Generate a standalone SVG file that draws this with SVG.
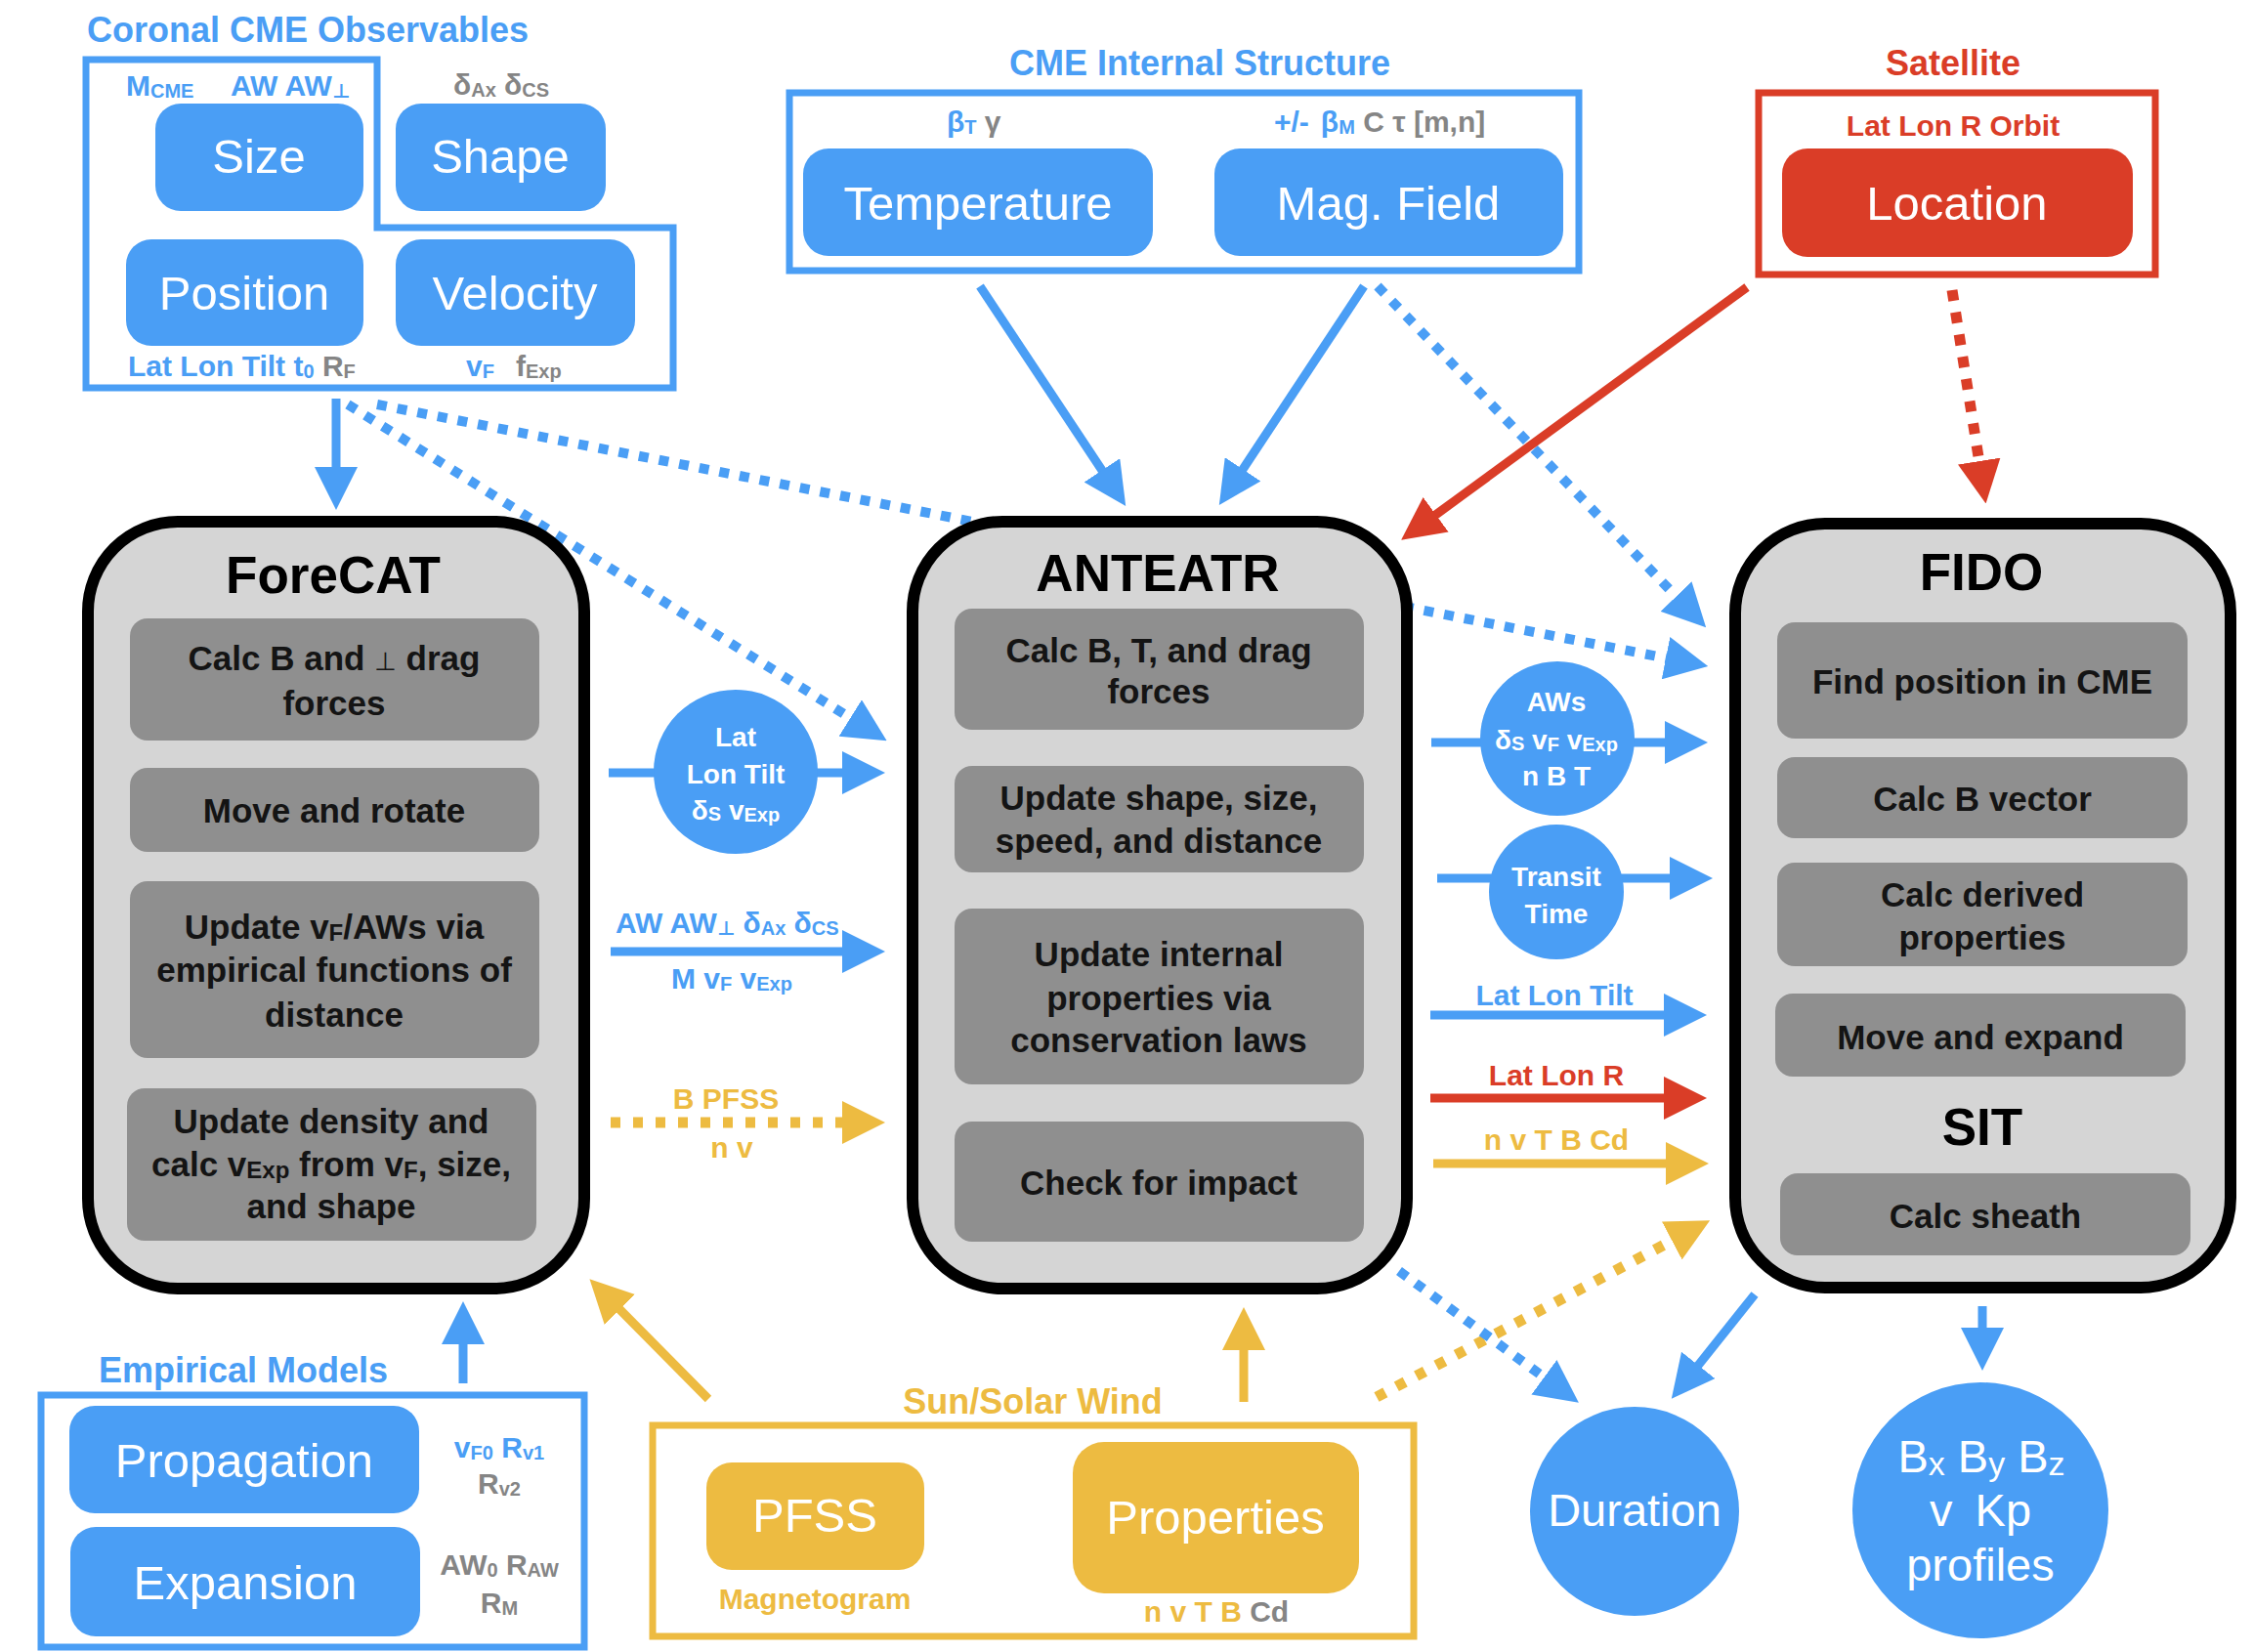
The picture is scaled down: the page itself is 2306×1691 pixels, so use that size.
<svg xmlns="http://www.w3.org/2000/svg" width="2306" height="1691" viewBox="0 0 2306 1691">
<style>
text{font-family:"Liberation Sans","DejaVu Sans",Arial,sans-serif}
.ttl{font-size:36px;font-weight:bold}
.lab{font-size:30px;font-weight:bold}
.s{font-size:20px}
.s2{font-size:24px}
.s3{font-size:34px}
.perp{font-size:26px;font-weight:normal}
.big{font-size:49px;fill:#fff;text-anchor:middle}
.el{font-size:47px}
.hd{font-size:53px;font-weight:bold;fill:#000;text-anchor:middle}
.st{font-size:35px;font-weight:bold;fill:#141414;text-anchor:middle}
.cir{font-size:28px;font-weight:bold;fill:#fff;text-anchor:middle}
.mid{text-anchor:middle}
.cb{fill:#4a9ef5}.cr{fill:#da3d27}.cy{fill:#edbb41}.cg{fill:#858585}
.fb{fill:#4a9ef5}.fr{fill:#da3d27}.fy{fill:#edbb41}
.frB{fill:none;stroke:#4a9ef5;stroke-width:7}
.frR{fill:none;stroke:#da3d27;stroke-width:7}
.frY{fill:none;stroke:#edbb41;stroke-width:7}
.mod{fill:#d5d5d5;stroke:#000;stroke-width:12}
.step{fill:#8f8f8f}
.lB{stroke:#4a9ef5;stroke-width:9;fill:none}
.dB{stroke:#4a9ef5;stroke-width:10;stroke-dasharray:10 11;fill:none}
.lR{stroke:#da3d27;stroke-width:9;fill:none}
.dR{stroke:#da3d27;stroke-width:11;stroke-dasharray:11 12;fill:none}
.lY{stroke:#edbb41;stroke-width:9;fill:none}
.dY{stroke:#edbb41;stroke-width:11;stroke-dasharray:10 13;fill:none}
</style>
<defs>
<marker id="aB" viewBox="0 0 44 44" markerWidth="44" markerHeight="44" refX="2" refY="22" orient="auto" markerUnits="userSpaceOnUse"><path d="M0,0L44,22L0,44Z" fill="#4a9ef5"/></marker>
<marker id="aR" viewBox="0 0 44 44" markerWidth="44" markerHeight="44" refX="2" refY="22" orient="auto" markerUnits="userSpaceOnUse"><path d="M0,0L44,22L0,44Z" fill="#da3d27"/></marker>
<marker id="aY" viewBox="0 0 44 44" markerWidth="44" markerHeight="44" refX="2" refY="22" orient="auto" markerUnits="userSpaceOnUse"><path d="M0,0L44,22L0,44Z" fill="#edbb41"/></marker>
</defs>
<rect width="2306" height="1691" fill="#fff"/>

<g id="connectors">
<line class="lB" x1="344" y1="408" x2="344" y2="480" marker-end="url(#aB)"/>
<line class="dB" x1="356" y1="414" x2="872" y2="736" marker-end="url(#aB)"/>
<line class="dB" x1="386" y1="414" x2="1707" y2="674" marker-end="url(#aB)"/>
<line class="lB" x1="1003" y1="293" x2="1129" y2="483" marker-end="url(#aB)"/>
<line class="lB" x1="1396" y1="293" x2="1271" y2="482" marker-end="url(#aB)"/>
<line class="dB" x1="1410" y1="293" x2="1717" y2="612" marker-end="url(#aB)"/>
<line class="lR" x1="1788" y1="294" x2="1468" y2="528" marker-end="url(#aR)"/>
<line class="dR" x1="1998" y1="297" x2="2026" y2="474" marker-end="url(#aR)"/>
<line class="lB" x1="623" y1="791" x2="864" y2="791" marker-end="url(#aB)"/>
<line class="lB" x1="625" y1="974" x2="864" y2="974" marker-end="url(#aB)"/>
<line class="dY" x1="625" y1="1149" x2="864" y2="1149" marker-end="url(#aY)"/>
<line class="lB" x1="1465" y1="760" x2="1706" y2="760" marker-end="url(#aB)"/>
<line class="lB" x1="1471" y1="899" x2="1711" y2="899" marker-end="url(#aB)"/>
<line class="lB" x1="1464" y1="1039" x2="1705" y2="1039" marker-end="url(#aB)"/>
<line class="lR" x1="1464" y1="1124" x2="1705" y2="1124" marker-end="url(#aR)"/>
<line class="lY" x1="1467" y1="1191" x2="1707" y2="1191" marker-end="url(#aY)"/>
<line class="dY" x1="1409" y1="1430" x2="1713" y2="1269" marker-end="url(#aY)"/>
<line class="dB" x1="1432" y1="1301" x2="1582" y2="1411" marker-end="url(#aB)"/>
<line class="lB" x1="1796" y1="1325" x2="1737" y2="1399" marker-end="url(#aB)"/>
<line class="lB" x1="2029" y1="1337" x2="2029" y2="1361" marker-end="url(#aB)"/>
<line class="lB" x1="474" y1="1416" x2="474" y2="1374" marker-end="url(#aB)"/>
<line class="lY" x1="1273" y1="1435" x2="1273" y2="1380" marker-end="url(#aY)"/>
<line class="lY" x1="725" y1="1432" x2="633" y2="1339" marker-end="url(#aY)"/>
<text class="lab cb" x="630" y="955">AW AW<tspan class="s" dy="2">⊥</tspan><tspan dy="-2"> δ</tspan><tspan class="s" dy="2">Ax</tspan><tspan dy="-2"> δ</tspan><tspan class="s" dy="2">CS</tspan></text>
<text class="lab cb" x="687" y="1012">M v<tspan class="s" dy="2">F</tspan><tspan dy="-2"> v</tspan><tspan class="s" dy="2">Exp</tspan></text>
<text class="lab cy mid" x="743" y="1135">B PFSS</text>
<text class="lab cy mid" x="749" y="1185">n v</text>
<text class="lab cb mid" x="1591" y="1029">Lat Lon Tilt</text>
<text class="lab cr mid" x="1593" y="1111">Lat Lon R</text>
<text class="lab cy mid" x="1593" y="1177">n v T B Cd</text>
</g>

<g id="coronal-cme-observables">
<text class="ttl cb" x="89" y="43">Coronal CME Observables</text>
<path class="frB" d="M88,61H386V233H689V397H88Z"/>
<text class="lab cb" x="129" y="98">M<tspan class="s" dy="2">CME</tspan></text>
<text class="lab cb" x="236" y="98">AW AW<tspan class="s" dy="2">⊥</tspan></text>
<text class="lab cg" x="464" y="97">δ<tspan class="s" dy="2">Ax</tspan><tspan dy="-2"> δ</tspan><tspan class="s" dy="2">CS</tspan></text>
<g id="size"><rect class="fb" x="159" y="106" width="213" height="110" rx="26"/><text class="big" x="265" y="177">Size</text></g>
<g id="shape"><rect class="fb" x="405" y="106" width="215" height="110" rx="26"/><text class="big" x="512" y="177">Shape</text></g>
<g id="position"><rect class="fb" x="129" y="245" width="243" height="109" rx="26"/><text class="big" x="250" y="317">Position</text></g>
<g id="velocity"><rect class="fb" x="405" y="245" width="245" height="109" rx="26"/><text class="big" x="527" y="317">Velocity</text></g>
<text class="lab cb" x="131" y="385">Lat Lon Tilt t<tspan class="s" dy="2">0</tspan><tspan class="cg" dy="-2"> R</tspan><tspan class="s cg" dy="2">F</tspan></text>
<text class="lab cb" x="477" y="385">v<tspan class="s" dy="2">F</tspan></text>
<text class="lab cg" x="528" y="385">f<tspan class="s" dy="2">Exp</tspan></text>
</g>

<g id="cme-internal-structure">
<text class="ttl cb mid" x="1228" y="77">CME Internal Structure</text>
<rect class="frB" x="808" y="95" width="808" height="182"/>
<text class="lab cb" x="969" y="135">β<tspan class="s" dy="2">T</tspan><tspan class="cg" dy="-2"> γ</tspan></text>
<text class="lab cb" x="1304" y="135">+/-<tspan dx="12">β</tspan><tspan class="s" dy="2">M</tspan><tspan class="cg" dy="-2"> C τ [m,n]</tspan></text>
<g id="temperature"><rect class="fb" x="822" y="152" width="358" height="110" rx="26"/><text class="big" x="1001" y="225">Temperature</text></g>
<g id="mag-field"><rect class="fb" x="1243" y="152" width="357" height="110" rx="26"/><text class="big" x="1421" y="225">Mag. Field</text></g>
</g>

<g id="satellite">
<text class="ttl cr mid" x="1999" y="77">Satellite</text>
<rect class="frR" x="1800" y="95" width="406" height="186"/>
<text class="lab cr mid" x="1999" y="139">Lat Lon R Orbit</text>
<g id="location"><rect class="fr" x="1824" y="152" width="359" height="111" rx="26"/><text class="big" x="2003" y="225">Location</text></g>
</g>

<g id="forecat">
<rect class="mod" x="90" y="534" width="508" height="785" rx="92"/>
<text class="hd" x="341" y="607">ForeCAT</text>
<rect class="step" x="133" y="633" width="419" height="125" rx="18"/>
<text class="st" x="342" y="686">Calc B and <tspan class="perp">⊥</tspan> drag</text>
<text class="st" x="342" y="732">forces</text>
<rect class="step" x="133" y="786" width="419" height="86" rx="18"/>
<text class="st" x="342" y="842">Move and rotate</text>
<rect class="step" x="133" y="902" width="419" height="181" rx="18"/>
<text class="st" x="342" y="961">Update v<tspan class="s2" dy="2">F</tspan><tspan dy="-2">/AWs via</tspan></text>
<text class="st" x="342" y="1005">empirical functions of</text>
<text class="st" x="342" y="1051">distance</text>
<rect class="step" x="130" y="1114" width="419" height="156" rx="18"/>
<text class="st" x="339" y="1160">Update density and</text>
<text class="st" x="339" y="1204">calc v<tspan class="s2" dy="2">Exp</tspan><tspan dy="-2"> from v</tspan><tspan class="s2" dy="2">F</tspan><tspan dy="-2">, size,</tspan></text>
<text class="st" x="339" y="1247">and shape</text>
</g>

<g id="anteatr">
<rect class="mod" x="934" y="534" width="506" height="785" rx="92"/>
<text class="hd" x="1185" y="605">ANTEATR</text>
<rect class="step" x="977" y="623" width="419" height="124" rx="18"/>
<text class="st" x="1186" y="678">Calc B, T, and drag</text>
<text class="st" x="1186" y="720">forces</text>
<rect class="step" x="977" y="784" width="419" height="109" rx="18"/>
<text class="st" x="1186" y="829">Update shape, size,</text>
<text class="st" x="1186" y="873">speed, and distance</text>
<rect class="step" x="977" y="930" width="419" height="180" rx="18"/>
<text class="st" x="1186" y="989">Update internal</text>
<text class="st" x="1186" y="1034">properties via</text>
<text class="st" x="1186" y="1077">conservation laws</text>
<rect class="step" x="977" y="1148" width="419" height="123" rx="18"/>
<text class="st" x="1186" y="1223">Check for impact</text>
</g>

<g id="fido">
<rect class="mod" x="1776" y="536" width="507" height="782" rx="92"/>
<text class="hd" x="2028" y="604">FIDO</text>
<rect class="step" x="1819" y="637" width="420" height="119" rx="18"/>
<text class="st" x="2029" y="710">Find position in CME</text>
<rect class="step" x="1819" y="775" width="420" height="83" rx="18"/>
<text class="st" x="2029" y="830">Calc B vector</text>
<rect class="step" x="1819" y="883" width="420" height="106" rx="18"/>
<text class="st" x="2029" y="928">Calc derived</text>
<text class="st" x="2029" y="972">properties</text>
<rect class="step" x="1817" y="1017" width="420" height="85" rx="18"/>
<text class="st" x="2027" y="1074">Move and expand</text>
<text class="hd" x="2029" y="1172">SIT</text>
<rect class="step" x="1822" y="1201" width="420" height="84" rx="18"/>
<text class="st" x="2032" y="1257">Calc sheath</text>
</g>

<g id="empirical-models">
<text class="ttl cb" x="101" y="1415">Empirical Models</text>
<rect class="frB" x="42" y="1428" width="556" height="258"/>
<g id="propagation"><rect class="fb" x="71" y="1439" width="358" height="110" rx="26"/><text class="big" x="250" y="1512">Propagation</text></g>
<g id="expansion"><rect class="fb" x="72" y="1563" width="358" height="112" rx="26"/><text class="big" x="251" y="1637">Expansion</text></g>
<text class="lab cb mid" x="511" y="1492">v<tspan class="s" dy="2">F0</tspan><tspan dy="-2"> R</tspan><tspan class="s" dy="2">v1</tspan></text>
<text class="lab cg mid" x="511" y="1529">R<tspan class="s" dy="2">v2</tspan></text>
<text class="lab cg mid" x="511" y="1612">AW<tspan class="s" dy="2">0</tspan><tspan dy="-2"> R</tspan><tspan class="s" dy="2">AW</tspan></text>
<text class="lab cg mid" x="511" y="1651">R<tspan class="s" dy="2">M</tspan></text>
</g>

<g id="sun-solar-wind">
<text class="ttl cy mid" x="1057" y="1447">Sun/Solar Wind</text>
<rect class="frY" x="668" y="1459" width="779" height="216"/>
<g id="pfss"><rect class="fy" x="723" y="1497" width="223" height="110" rx="26"/><text class="big" x="834" y="1568">PFSS</text></g>
<text class="lab cy mid" x="834" y="1647">Magnetogram</text>
<g id="properties"><rect class="fy" x="1098" y="1476" width="293" height="155" rx="32"/><text class="big" x="1244" y="1570">Properties</text></g>
<text class="lab cy mid" x="1245" y="1660">n v T B <tspan class="cg">Cd</tspan></text>
</g>

<g id="lat-lon-tilt-circle">
<circle class="fb" cx="753" cy="790" r="84"/>
<text class="cir" x="753" y="764">Lat</text>
<text class="cir" x="753" y="802">Lon Tilt</text>
<text class="cir" x="753" y="839">δ<tspan class="s" dy="1">S</tspan><tspan dy="-1"> v</tspan><tspan class="s" dy="2">Exp</tspan></text>
</g>
<g id="aws-circle">
<circle class="fb" cx="1594" cy="756" r="79"/>
<text class="cir" x="1593" y="728">AWs</text>
<text class="cir" x="1593" y="767">δ<tspan class="s" dy="1">S</tspan><tspan dy="-1"> v</tspan><tspan class="s" dy="2">F</tspan><tspan dy="-2"> v</tspan><tspan class="s" dy="2">Exp</tspan></text>
<text class="cir" x="1593" y="804">n B T</text>
</g>
<g id="transit-time">
<circle class="fb" cx="1593" cy="913" r="69"/>
<text class="cir" x="1593" y="907" style="font-size:28px">Transit</text>
<text class="cir" x="1593" y="945" style="font-size:28px">Time</text>
</g>
<g id="duration">
<circle class="fb" cx="1673" cy="1547" r="107"/>
<text class="big el" x="1673" y="1562">Duration</text>
</g>
<g id="profiles">
<circle class="fb" cx="2027" cy="1546" r="131"/>
<text class="big el" x="2028" y="1507">B<tspan class="s3" dy="3">x</tspan><tspan dy="-3"> B</tspan><tspan class="s3" dy="3">y</tspan><tspan dy="-3"> B</tspan><tspan class="s3" dy="3">z</tspan></text>
<text class="big el" x="2027" y="1562">v <tspan dx="10">Kp</tspan></text>
<text class="big el" x="2027" y="1618">profiles</text>
</g>
</svg>
